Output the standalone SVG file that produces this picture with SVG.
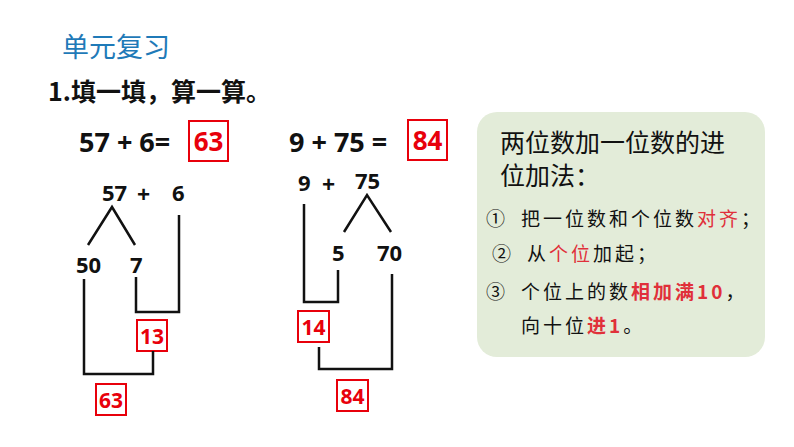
<svg xmlns="http://www.w3.org/2000/svg" width="794" height="447" viewBox="0 0 794 447">
<style>
.t{font-family:"Open Sans","Liberation Sans","Noto Sans CJK SC",sans-serif;font-weight:bold;fill:#111}
.r{fill:#e8000b}
.bx{fill:none;stroke:#e8000b;stroke-width:2}
.ln{fill:none;stroke:#111;stroke-width:2.5}
.c{font-family:"Noto Sans CJK SC",sans-serif;fill:#111}
.i{letter-spacing:3px}
.cr{fill:#e0303a}
</style>
<rect width="794" height="447" fill="#fff"/>
<text x="62" y="57" font-family="Noto Sans CJK SC,sans-serif" font-size="27" fill="#1f7ab8">单元复习</text>
<text x="48" y="101" class="c" font-size="25" font-weight="bold">1.填一填，算一算。</text>
<g id="eq1">
<text x="79" y="152" class="t" font-size="27">57 + 6=</text>
<rect x="189" y="121" width="39" height="40" class="bx"/>
<text x="208.5" y="151" class="t r" font-size="26" text-anchor="middle">63</text>
</g>
<g id="eq2">
<text x="289" y="152" class="t" font-size="27">9 + 75 =</text>
<rect x="408" y="120" width="39" height="40" class="bx"/>
<text x="427.5" y="150" class="t r" font-size="26" text-anchor="middle">84</text>
</g>
<g id="tree1">
<text x="102" y="201" class="t" font-size="22">57</text>
<text x="137" y="203" class="t" font-size="23">+</text>
<text x="172" y="201" class="t" font-size="22">6</text>
<text x="76" y="273" class="t" font-size="22">50</text>
<text x="130" y="273" class="t" font-size="22">7</text>
<rect x="137" y="320" width="30" height="31" class="bx"/>
<text x="152" y="344" class="t r" font-size="21" text-anchor="middle">13</text>
<rect x="96" y="384" width="30" height="31" class="bx"/>
<text x="111" y="408" class="t r" font-size="21" text-anchor="middle">63</text>
</g>
<g id="tree2">
<text x="298" y="191" class="t" font-size="22">9</text>
<text x="322" y="193" class="t" font-size="23">+</text>
<text x="355" y="189" class="t" font-size="22">75</text>
<text x="332" y="261" class="t" font-size="22">5</text>
<text x="377" y="261" class="t" font-size="22">70</text>
<rect x="298" y="311" width="31" height="31" class="bx"/>
<text x="313.5" y="335" class="t r" font-size="21" text-anchor="middle">14</text>
<rect x="337" y="380" width="31" height="31" class="bx"/>
<text x="352.5" y="404" class="t r" font-size="21" text-anchor="middle">84</text>
</g>
<g id="connectors">
<polyline class="ln" points="88,245 112,207 135,245"/>
<polyline class="ln" points="136,277 136,312 179,312 179,215"/>
<polyline class="ln" points="84,279 84,374 153,374 153,351"/>
<polyline class="ln" points="344,232 367,195 391,232"/>
<polyline class="ln" points="304,204 304,302 338,302 338,270"/>
<polyline class="ln" points="319,347 319,369 392,369 392,274"/>
</g>
<g id="note">
<rect x="477" y="112" width="288" height="245" rx="20" fill="#e3ecd9"/>
<text x="500" y="152" class="c" font-size="25">两位数加一位数的进</text>
<text x="500" y="185" class="c" font-size="25">位加法：</text>
<text x="486" y="226" class="c i" font-size="19">①<tspan x="521">把一位数和个位数</tspan><tspan class="cr">对齐</tspan>；</text>
<text x="492" y="261" class="c i" font-size="19">②<tspan x="527">从</tspan><tspan class="cr">个位</tspan>加起；</text>
<text x="486" y="299" class="c i" font-size="19">③<tspan x="521">个位上的数</tspan><tspan class="cr" font-weight="bold">相加满10</tspan>，</text>
<text x="521" y="333" class="c i" font-size="19">向十位<tspan class="cr" font-weight="bold">进1</tspan>。</text>
</g>
</svg>
